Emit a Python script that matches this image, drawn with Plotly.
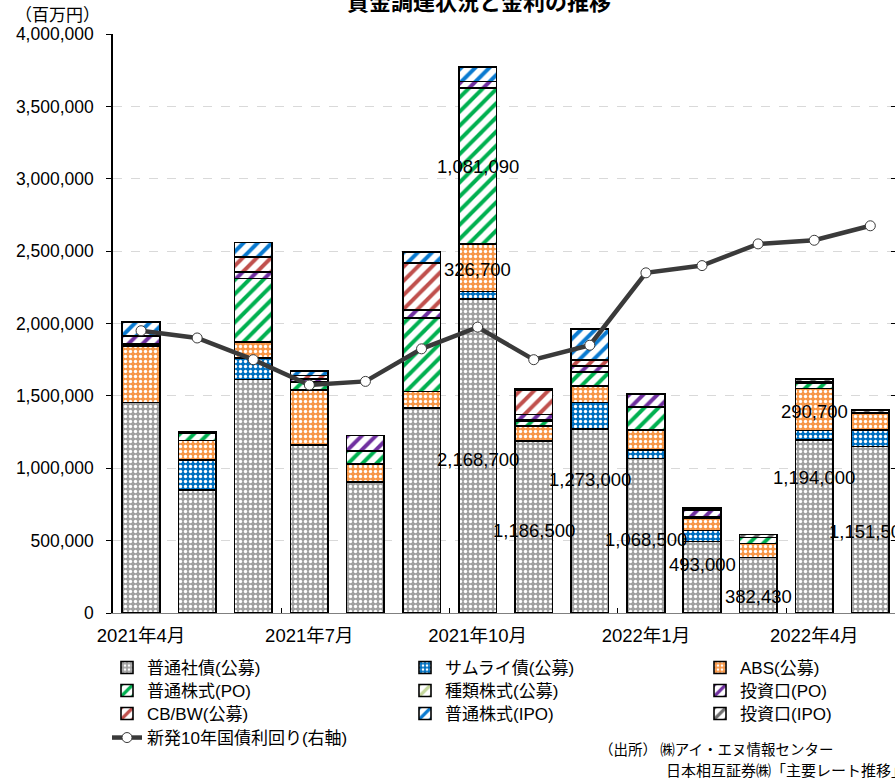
import plotly.graph_objects as go

months = ["2021年4月", "2021年5月", "2021年6月", "2021年7月", "2021年8月", "2021年9月",
          "2021年10月", "2021年11月", "2021年12月", "2022年1月", "2022年2月", "2022年3月",
          "2022年4月", "2022年5月"]

futsu_shasai = [1455000, 850000, 1614000, 1161000, 907000, 1418000, 2168700, 1186500,
                1273000, 1068500, 493000, 382430, 1194000, 1151500]
samurai = [0, 207000, 146000, 0, 0, 0, 52000, 0, 180000, 58000, 76000, 0, 66000, 113000]
abs_pub = [390000, 135000, 114000, 380000, 122000, 111000, 326700, 105000, 117000,
           138000, 89000, 99000, 290700, 116000]
kabu_po = [12000, 47000, 438000, 55000, 92000, 507000, 1081090, 35000, 93000, 157000,
           0, 41000, 36000, 0]
shurui = [0, 0, 0, 0, 0, 0, 0, 10000, 0, 0, 10000, 0, 0, 0]
toushi_po = [53000, 10000, 42000, 20000, 104000, 57000, 43000, 35000, 45000, 90000,
             44000, 0, 0, 0]
cbbw = [5000, 0, 107000, 25000, 0, 323000, 0, 170000, 40000, 0, 0, 0, 10000, 0]
kabu_ipo = [95000, 0, 100000, 30000, 0, 80000, 100000, 10000, 214000, 0, 0, 0, 0, 0]
toushi_ipo = [0, 0, 0, 0, 0, 0, 0, 0, 0, 0, 15000, 20000, 18000, 23000]

jgb10 = [0.090, 0.080, 0.050, 0.015, 0.020, 0.065, 0.095, 0.050, 0.070, 0.170, 0.180,
         0.210, 0.215, 0.235]

# data labels: (series, index)
label_items = [("po", 6), ("abs", 6), ("fs", 6), ("fs", 7), ("fs", 8), ("fs", 9),
               ("fs", 10), ("fs", 11), ("fs", 12), ("abs", 12), ("fs", 13)]
label_pos_y = [3083000, 2376000, 1062000, 573000, 919000, 511000, 332000, 113000,
               938000, 1391000, 562000]

x = list(range(len(months)))
FONT = "Liberation Sans, Arial, Noto Sans CJK JP, sans-serif"
JFONT = "Noto Sans CJK JP, sans-serif"

PLOT_TOP, PLOT_BOTTOM = 34, 613


def py(p):
    return (PLOT_BOTTOM - p) / (PLOT_BOTTOM - PLOT_TOP)


def px(p):
    return (p - 113) / 782


# name, values, colour, pattern kind, legend row, legend column
series = [
    ("普通社債(公募)", futsu_shasai, "#a0a0a0", "dot", "legend", 0),
    ("サムライ債(公募)", samurai, "#0070c0", "dot", "legend", 1),
    ("ABS(公募)", abs_pub, "#f79646", "dot", "legend", 2),
    ("普通株式(PO)", kabu_po, "#00b050", "stripe", "legend2", 0),
    ("種類株式(公募)", shurui, "#c4d79b", "stripe", "legend2", 1),
    ("投資口(PO)", toushi_po, "#7030a0", "stripe", "legend2", 2),
    ("CB/BW(公募)", cbbw, "#c0504d", "stripe", "legend3", 0),
    ("普通株式(IPO)", kabu_ipo, "#0a7ad0", "stripe", "legend3", 1),
    ("投資口(IPO)", toushi_ipo, "#707070", "stripe", "legend3", 2),
]
col_widths = [253, 250, 120]

fig = go.Figure()
for name, vals, col, kind, lg, c in series:
    if kind == "dot":
        pat = dict(shape=".", fillmode="replace", bgcolor=col, fgcolor="white",
                   size=5, solidity=0.35)
    else:
        pat = dict(shape="/", fillmode="replace", bgcolor="white", fgcolor=col,
                   size=10, solidity=0.4)
    fig.add_trace(go.Bar(
        x=x, y=vals, name=name, width=0.67, legend=lg, legendwidth=col_widths[c],
        marker=dict(color=col, pattern=pat, line=dict(color="black", width=1.6)),
    ))

fig.add_trace(go.Scatter(
    x=x, y=jgb10, name="新発10年国債利回り(右軸)", yaxis="y2", mode="lines+markers",
    line=dict(color="#3a3a3a", width=4.5),
    marker=dict(symbol="circle", size=10, color="white", line=dict(color="#3a3a3a", width=1)),
    legend="legend4",
))

lookup = {"fs": futsu_shasai, "abs": abs_pub, "po": kabu_po}
for (s, i), yy in zip(label_items, label_pos_y):
    fig.add_annotation(x=i, y=yy, xref="x", yref="y", text=f"{lookup[s][i]:,}",
                       xanchor="center", yanchor="middle",
                       showarrow=False, font=dict(size=18.5, color="black", family=FONT))

fig.add_annotation(x=px(57), y=py(13), xref="paper", yref="paper", text="（百万円）",
                   xanchor="center", yanchor="middle",
                   showarrow=False, font=dict(size=17, color="black", family=JFONT))
fig.add_annotation(x=px(479), y=py(0), xref="paper", yref="paper", yanchor="middle",
                   xanchor="center",
                   text="<b>資金調達状況と金利の推移</b>", showarrow=False,
                   font=dict(size=22, color="black", family=JFONT))
fig.add_annotation(x=px(597), y=py(748), xref="paper", yref="paper", xanchor="left",
                   yanchor="middle", text="（出所） ㈱アイ・エヌ情報センター",
                   showarrow=False, font=dict(size=14.5, color="black", family=JFONT))
fig.add_annotation(x=px(664), y=py(769), xref="paper", yref="paper", xanchor="left",
                   yanchor="middle", text="日本相互証券㈱「主要レート推移」",
                   showarrow=False, font=dict(size=15, color="black", family=JFONT))

leg_common = dict(orientation="h", xanchor="left", yanchor="top", x=px(107),
                  bgcolor="rgba(0,0,0,0)", font=dict(size=17, color="black", family=FONT),
                  traceorder="normal", itemwidth=30, entrywidthmode="pixels")

fig.update_layout(
    width=895, height=779,
    margin=dict(l=113, r=0, t=34, b=166),
    paper_bgcolor="white", plot_bgcolor="white",
    barmode="stack", bargap=0.33,
    font=dict(family=FONT, size=16, color="black"),
    xaxis=dict(range=[-0.5, 13.44], tickvals=x[::3], ticktext=months[::3],
               showgrid=False, showline=True, linecolor="#808080", linewidth=1,
               ticks="", tickfont=dict(size=18.5), zeroline=False, ticklabelstandoff=6,
               minor=dict(tickvals=[2.5, 5.5, 8.5, 11.5], ticks="inside", ticklen=5,
                          tickcolor="black", showgrid=False)),
    yaxis=dict(range=[0, 4000000], dtick=500000, tickformat=",d",
               showgrid=True, gridcolor="#d9d9d9", griddash="dash", gridwidth=1,
               showline=True, linecolor="black", linewidth=1.5,
               ticks="outside", ticklen=5, tickcolor="black", zeroline=False,
               tickfont=dict(size=17.5), ticklabelstandoff=9),
    yaxis2=dict(range=[-0.3, 0.5], dtick=0.1, overlaying="y", side="right",
                showgrid=False, showticklabels=False, ticks="inside", ticklen=4,
                tickcolor="black", showline=False, zeroline=False),
    legend=dict(y=py(650), **leg_common),
    legend2=dict(y=py(673), **leg_common),
    legend3=dict(y=py(696), **leg_common),
    legend4=dict(y=py(720), **leg_common),
    showlegend=True,
)

fig.write_html("out.html")
